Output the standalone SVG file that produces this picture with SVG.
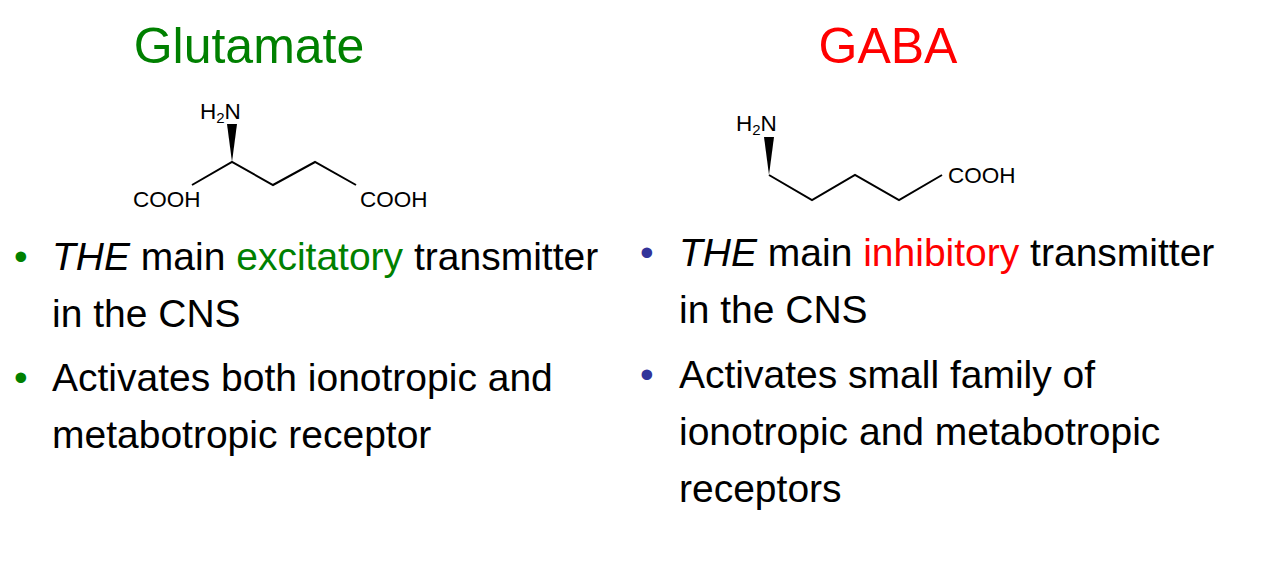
<svg xmlns="http://www.w3.org/2000/svg" width="1265" height="576" viewBox="0 0 1265 576">
<style>
text{font-family:"Liberation Sans",Arial,sans-serif;fill:#000}
.t{font-size:50px;text-anchor:middle}
.b{font-size:39px}
.c{font-size:22.5px}
.s{font-size:15px}
.bond{fill:none;stroke:#000;stroke-width:2}
</style>
<rect width="1265" height="576" fill="#fff"/>
<g id="glutamate">
<text class="t" x="249" y="63" style="fill:#008000">Glutamate</text>
<polygon points="227,124 237,124 232,162" fill="#000"/>
<polyline class="bond" points="192,185 232,162 273,185 315,162 356,185"/>
<text class="c" x="200" y="119">H<tspan class="s" dy="4">2</tspan><tspan dy="-4">N</tspan></text>
<text class="c" x="133" y="207">COOH</text>
<text class="c" x="360" y="207">COOH</text>
<text class="b" x="14" y="270" style="fill:#008000">•</text>
<text class="b" x="52" y="270"><tspan font-style="italic">THE</tspan> main <tspan style="fill:#008000">excitatory</tspan> transmitter</text>
<text class="b" x="52" y="327">in the CNS</text>
<text class="b" x="14" y="391" style="fill:#008000">•</text>
<text class="b" x="52" y="391">Activates both ionotropic and</text>
<text class="b" x="52" y="448">metabotropic receptor</text>
</g>
<g id="gaba">
<text class="t" x="888" y="63" style="fill:#ff0000">GABA</text>
<polygon points="764,137 774,137 769,175" fill="#000"/>
<polyline class="bond" points="769,175 812,200 855,175 899,200 942,175"/>
<text class="c" x="736" y="131">H<tspan class="s" dy="4">2</tspan><tspan dy="-4">N</tspan></text>
<text class="c" x="948" y="183">COOH</text>
<text class="b" x="640" y="266" style="fill:#333399">•</text>
<text class="b" x="679" y="266"><tspan font-style="italic">THE</tspan> main <tspan style="fill:#ff0000">inhibitory</tspan> transmitter</text>
<text class="b" x="679" y="323">in the CNS</text>
<text class="b" x="640" y="388" style="fill:#333399">•</text>
<text class="b" x="679" y="388">Activates small family of</text>
<text class="b" x="679" y="445">ionotropic and metabotropic</text>
<text class="b" x="679" y="502">receptors</text>
</g>
</svg>
